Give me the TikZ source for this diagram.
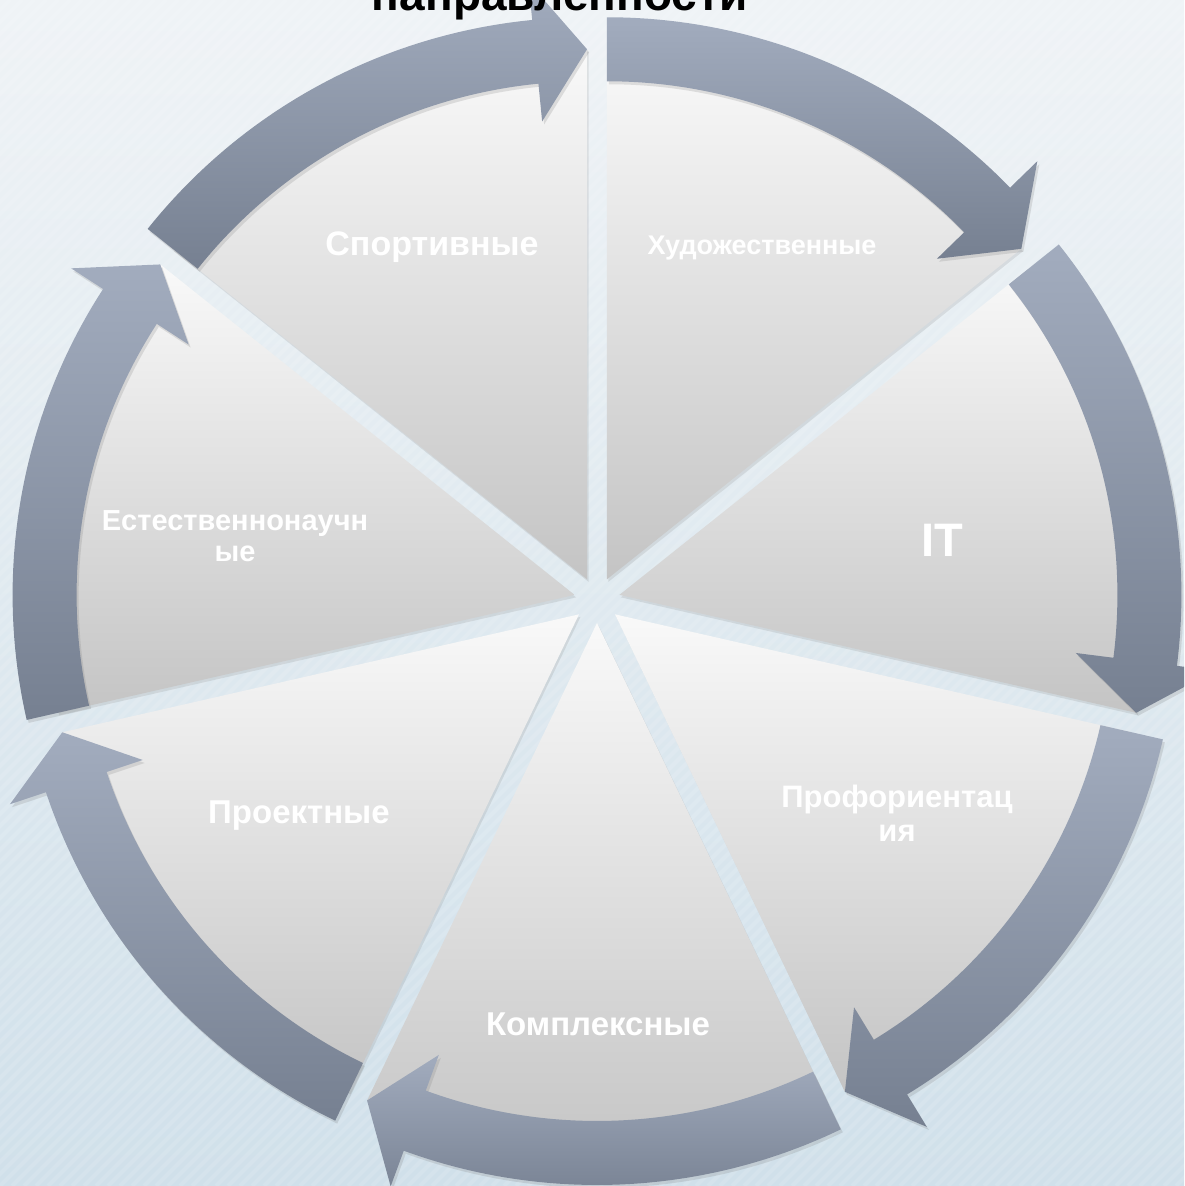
\documentclass[tikz,border=0pt]{standalone}
\usepackage{fontspec}
\setmainfont{Liberation Sans}
\usetikzlibrary{shadows}
\definecolor{bgtop}{HTML}{EFF3F6}
\definecolor{bgbot}{HTML}{D0E0EA}
\definecolor{wtop}{HTML}{F9F9F9}
\definecolor{wbot}{HTML}{C4C4C4}
\definecolor{atop}{HTML}{A2ACBE}
\definecolor{abot}{HTML}{768091}
\tikzset{
  wedgeshape/.style={top color=wtop, bottom color=wbot,
    drop shadow={opacity=0.18, shadow xshift=1.5pt, shadow yshift=-2.5pt}},
  arrowshape/.style={top color=atop, bottom color=abot,
    drop shadow={opacity=0.22, shadow xshift=2pt, shadow yshift=-3pt}},
  lbl/.style={text=white, font=\bfseries, inner sep=0pt, anchor=base},
}
\begin{document}
\begin{tikzpicture}[x=1pt,y=1pt]
\clip (0,0) rectangle (1184,1186);
\shade[top color=bgtop, bottom color=bgbot] (0,0) rectangle (1184,1186);
% faint stripes
\foreach \k in {-1200,-1188,...,1200}{
  \draw[white, opacity=0.12, line width=4pt] (\k,0) -- ++(1186,1186);
}
\def\R{530}
\def\W{32}
\def\H{70}
\def\D{23}
% wedges
\foreach \t in {64.2857,12.8571,-38.5714,-90,-141.4286,-192.8571,-244.2857}{
  \pgfmathsetmacro\aa{\t+25.7143}
  \pgfmathsetmacro\ab{\t-25.7143}
  \begin{scope}[shift={(597,586)}, shift={(\t:\D)}]
    \shade[wedgeshape] (0,0) -- (\aa:\R) arc[start angle=\aa, end angle=\ab, radius=\R] -- cycle;
  \end{scope}
}
% arrows
\foreach \t in {64.2857,12.8571,-38.5714,-90,-141.4286,-192.8571,-244.2857}{
  \pgfmathsetmacro\aa{\t+25.7143}
  \pgfmathsetmacro\ab{\t-25.7143}
  \pgfmathsetmacro\ac{\ab+5.6}
  \pgfmathsetmacro\ro{\R+\W}
  \pgfmathsetmacro\ri{\R-\W}
  \pgfmathsetmacro\ho{\R+\H}
  \pgfmathsetmacro\hi{\R-\H}
  \begin{scope}[shift={(597,586)}, shift={(\t:\D)}]
    \shade[arrowshape] (\aa:\ro) arc[start angle=\aa, end angle=\ac, radius=\ro]
      -- (\ac:\ho) -- (\ab:\R) -- (\ac:\hi) -- (\ac:\ri)
      arc[start angle=\ac, end angle=\aa, radius=\ri] -- cycle;
  \end{scope}
}
% title (cut at the top edge, as in the reference)
\node[inner sep=0pt, anchor=base, font=\bfseries\fontsize{46}{50}\selectfont] (title) at (560,1175) {направленности};
% labels
\node[lbl, font=\bfseries\fontsize{34}{38}\selectfont] (sport) at (432,930) {Спортивные};
\node[lbl, font=\bfseries\fontsize{27}{30}\selectfont] (hud) at (762,931) {Художественные};
\node[lbl, font=\bfseries\fontsize{47}{50}\selectfont] (it) at (942,629) {IT};
\node[lbl, font=\bfseries\fontsize{29}{31}\selectfont] (esta) at (235,655) {Естественнонаучн};
\node[lbl, font=\bfseries\fontsize{29}{31}\selectfont] (estb) at (235,624) {ые};
\node[lbl, font=\bfseries\fontsize{33}{36}\selectfont] (proekt) at (299,362) {Проектные};
\node[lbl, font=\bfseries\fontsize{31}{34}\selectfont] (profa) at (897,378) {Профориентац};
\node[lbl, font=\bfseries\fontsize{31}{34}\selectfont] (profb) at (897,344) {ия};
\node[lbl, font=\bfseries\fontsize{33}{36}\selectfont] (komp) at (598,150) {Комплексные};
\end{tikzpicture}
\end{document}
